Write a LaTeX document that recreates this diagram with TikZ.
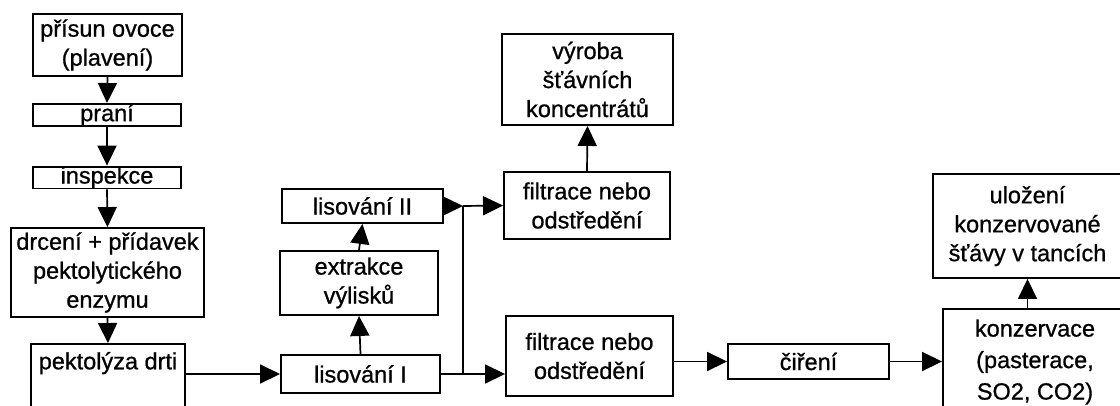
\documentclass[tikz,border=0pt]{standalone}
\usepackage{fontspec}
\setmainfont{Liberation Sans}
\newfontfamily\scanfont{Liberation Sans}[FakeBold=0.8]
\usetikzlibrary{arrows.meta,calc}
\begin{document}
\begin{tikzpicture}[x=1pt,y=-1pt,
  box/.style={draw, line width=1.9pt, align=center, inner sep=0pt,
    font=\scanfont\fontsize{23.5}{29}\selectfont},
  arr/.style={line width=1.7pt, -{Triangle[length=20pt,width=19pt]}},
  ln/.style={line width=1.7pt}]
\useasboundingbox (0,0) rectangle (1120,405);
\clip (0,0) rectangle (1120,405);
\fill[white] (0,0) rectangle (1120,405);
% left column
\node[box, minimum width=149pt, minimum height=62pt] (A) at (107.5,45) {přísun ovoce\\(plavení)};
\node[box, minimum width=148pt, minimum height=22pt] (B) at (107,115) {praní};
\node[box, minimum width=148pt, minimum height=21pt] (C) at (107,177.5) {inspekce};
\node[box, minimum width=193pt, minimum height=89pt] (D) at (107.5,272.5) {drcení + přídavek\\pektolytického\\enzymu};
\node[box, minimum width=154pt, minimum height=76pt] (E) at (108,382) {};
\node[box, draw=none, anchor=north] (Et) at ($(E.north)+(0,8)$) {pektolýza drti};
% middle column
\node[box, minimum width=159pt, minimum height=38pt] (F) at (360.5,374) {lisování I};
\node[box, minimum width=158pt, minimum height=64pt] (G) at (359,283) {extrakce\\výlisků};
\node[box, minimum width=161pt, minimum height=34pt] (H) at (362.5,206) {lisování II};
\node[box, minimum width=166pt, minimum height=67pt] (I) at (587,205.5) {filtrace nebo\\odstředění};
\node[box, minimum width=171pt, minimum height=91pt] (J) at (587.5,79.5) {výroba\\šťávních\\koncentrátů};
\node[box, minimum width=167pt, minimum height=80pt] (K) at (589.5,356) {filtrace nebo\\odstředění};
\node[box, minimum width=161pt, minimum height=35pt] (N) at (808.5,361.5) {čiření};
% right column
\node[box, minimum width=184pt, minimum height=106pt, font=\scanfont\fontsize{23.5}{31.5}\selectfont] (L) at (1035,362) {konzervace\\(pasterace,\\SO2, CO2)};
\node[box, minimum width=189pt, minimum height=104pt] (M) at (1027.5,226) {uložení\\konzervované\\šťávy v tancích};
% connectors
\draw[arr] (A.south) -- (B.north);
\draw[arr] (B.south) -- (C.north);
\draw[arr] (C.south) -- (D.north);
\draw[arr] (D.south) -- (E.north);
\draw[arr] (F.west -| E.east) -- (F.west);
\draw[arr] (F.north) -- (G.south);
\draw[arr] (G.north) -- (H.south);
\coordinate (j1) at (463,206);
\draw[arr] (H.east) -- (j1);
\draw[arr] (j1) -- (I.west);
\draw[ln] (j1) -- (j1 |- F.east);
\draw[arr] (F.east) -- (K.west |- F.east);
\draw[arr] (I.north) -- (J.south);
\draw[arr] (K.east |- N.west) -- (N.west);
\draw[arr] (N.east) -- (L.west |- N.east);
\draw[arr] (M.south |- L.north) -- (M.south);
\end{tikzpicture}
\end{document}
